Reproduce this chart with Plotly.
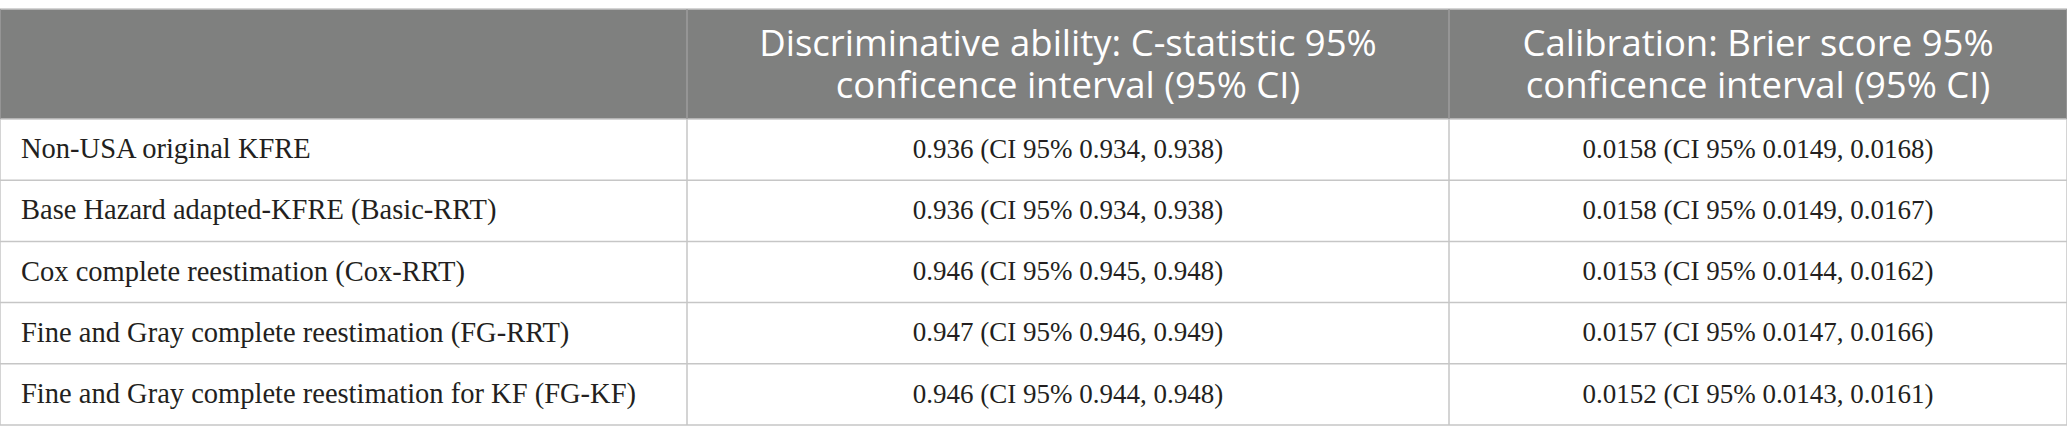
import plotly.graph_objects as go

W, H = 2067, 444

# --- data ---
head_line1 = ["Discriminative ability: C-statistic 95%", "Calibration: Brier score 95%"]
head_line2 = ["conficence interval (95% CI)", "conficence interval (95% CI)"]

models = [
    "Non-USA original KFRE",
    "Base Hazard adapted-KFRE (Basic-RRT)",
    "Cox complete reestimation (Cox-RRT)",
    "Fine and Gray complete reestimation (FG-RRT)",
    "Fine and Gray complete reestimation for KF (FG-KF)",
]
c_statistic = [
    "0.936 (CI 95% 0.934, 0.938)",
    "0.936 (CI 95% 0.934, 0.938)",
    "0.946 (CI 95% 0.945, 0.948)",
    "0.947 (CI 95% 0.946, 0.949)",
    "0.946 (CI 95% 0.944, 0.948)",
]
brier = [
    "0.0158 (CI 95% 0.0149, 0.0168)",
    "0.0158 (CI 95% 0.0149, 0.0167)",
    "0.0153 (CI 95% 0.0144, 0.0162)",
    "0.0157 (CI 95% 0.0147, 0.0166)",
    "0.0152 (CI 95% 0.0143, 0.0161)",
]

# --- layout of the grid (axis units = px) ---
COL_W = [687, 762, 618]
TOP, HEAD_H, ROW_H = 9, 110, 61.2
PAD = 21
LINE = "#c6c6c6"
HEAD_BG = "#7f807f"
HEAD_DIV = "#9c9c9c"
TXT = "#231f20"

col_edges = [0]
for w in COL_W:
    col_edges.append(col_edges[-1] + w)
col_mid = [(a + b) / 2 for a, b in zip(col_edges[:-1], col_edges[1:])]

n = len(models)
row_edges = [TOP, TOP + HEAD_H] + [TOP + HEAD_H + ROW_H * (i + 1) for i in range(n)]
row_mid = [(a + b) / 2 + 1.5 for a, b in zip(row_edges[1:-1], row_edges[2:])]
head_y = [TOP + HEAD_H / 2 - 17, TOP + HEAD_H / 2 + 25]

label_font = dict(family="Liberation Serif", size=28.5, color=TXT)
value_font = dict(family="Liberation Serif", size=27, color=TXT)
head_font = dict(family="Open Sans", size=36.5, color="white")

fig = go.Figure()

# body cells
fig.add_trace(go.Scatter(x=[col_edges[0] + PAD] * n, y=row_mid, text=models,
                         mode="text", textposition="middle right", textfont=label_font))
fig.add_trace(go.Scatter(x=[col_mid[1]] * n, y=row_mid, text=c_statistic,
                         mode="text", textposition="middle center", textfont=value_font))
fig.add_trace(go.Scatter(x=[col_mid[2]] * n, y=row_mid, text=brier,
                         mode="text", textposition="middle center", textfont=value_font))

# header, two lines per heading
for line, y in zip([head_line1, head_line2], head_y):
    fig.add_trace(go.Scatter(x=col_mid[1:], y=[y] * len(line), text=line,
                             mode="text", textposition="middle center", textfont=head_font))

fig.update_traces(hoverinfo="skip", cliponaxis=False, showlegend=False)

shapes = [dict(type="rect", xref="x", yref="y", layer="below",
               x0=col_edges[0], x1=col_edges[-1], y0=row_edges[0], y1=row_edges[1],
               fillcolor=HEAD_BG, line_width=0)]
# horizontal rules
for y in row_edges:
    shapes.append(dict(type="line", xref="x", yref="y", x0=col_edges[0], x1=col_edges[-1],
                       y0=y, y1=y, line=dict(color=LINE, width=1.5)))
# vertical rules (lighter inside the header)
for x in col_edges:
    shapes.append(dict(type="line", xref="x", yref="y", x0=x, x1=x,
                       y0=row_edges[0], y1=row_edges[1], line=dict(color=HEAD_DIV, width=1.5)))
    shapes.append(dict(type="line", xref="x", yref="y", x0=x, x1=x,
                       y0=row_edges[1], y1=row_edges[-1], line=dict(color=LINE, width=1.5)))

fig.update_layout(
    width=W, height=H,
    margin=dict(l=0, r=0, t=0, b=0),
    paper_bgcolor="white", plot_bgcolor="white",
    shapes=shapes,
    xaxis=dict(range=[0, W], visible=False, fixedrange=True),
    yaxis=dict(range=[H, 0], visible=False, fixedrange=True),
)

fig.write_html("out.html", config={"displayModeBar": False},
               post_script="document.body.style.margin='0';")
